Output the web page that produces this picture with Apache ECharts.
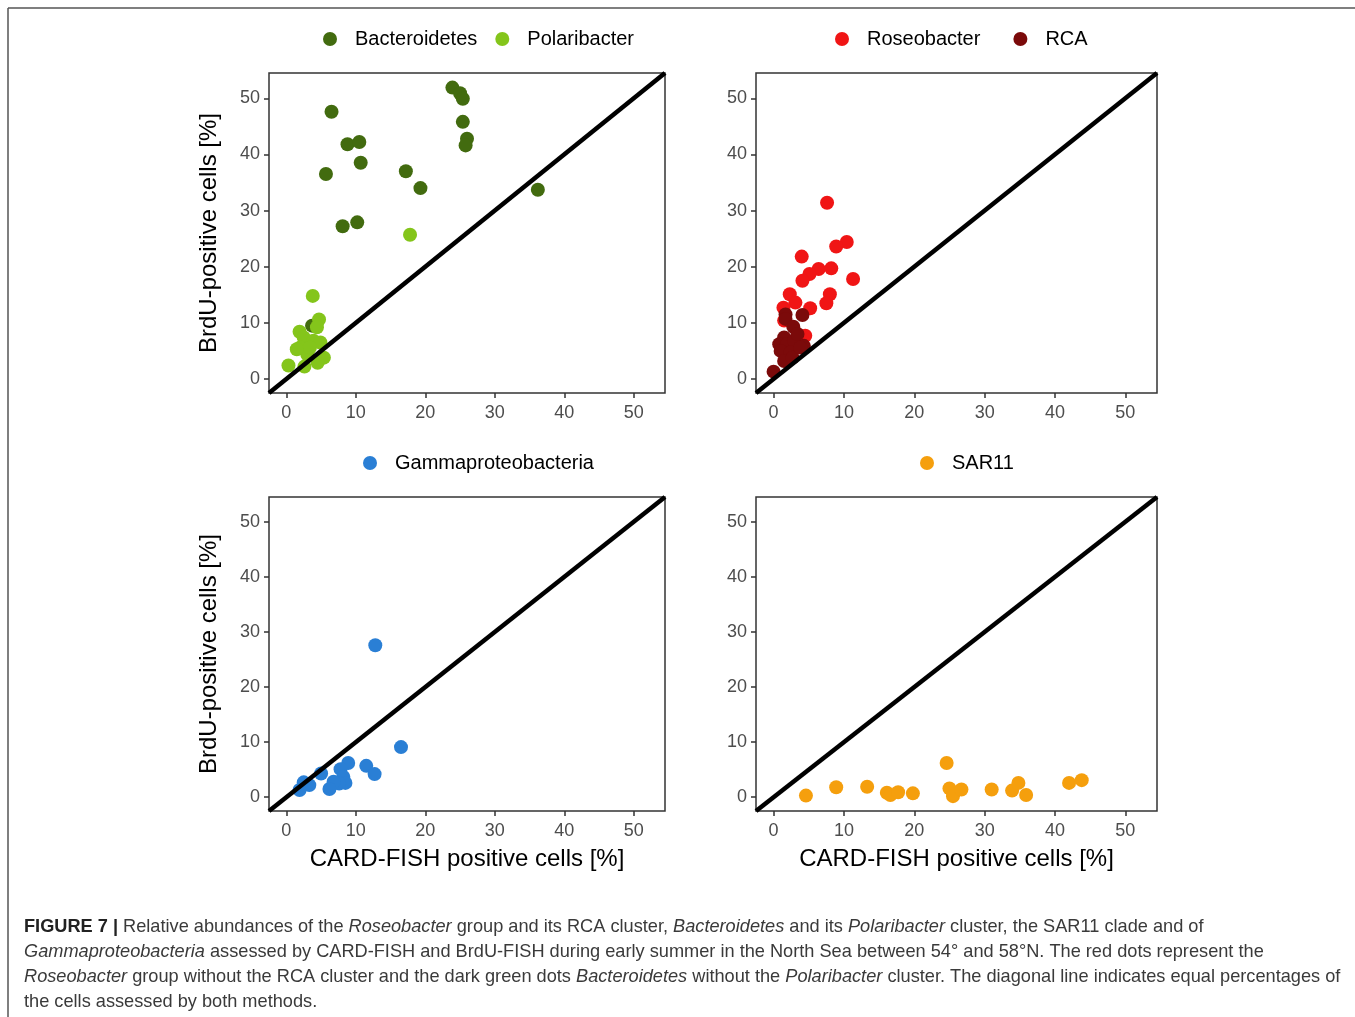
<!DOCTYPE html>
<html>
<head>
<meta charset="utf-8">
<script src="https://cdn.jsdelivr.net/npm/echarts@6.0.0/dist/echarts.min.js"></script>
<style>
  html, body { margin: 0; padding: 0; background: #fff; }
  #main { width: 1355px; height: 1017px; }
</style>
</head>
<body>
<div id="main"></div>
<script>
// values (CARD-FISH %, BrdU %)
var bactX = [23.9, 25.0, 25.4, 25.4, 26.0, 25.8, 6.5, 8.8, 10.5, 10.7, 5.7, 17.2, 19.3, 36.2, 8.1, 10.2, 3.7];
var bactY = [51.9, 50.9, 49.9, 45.8, 42.8, 41.6, 47.6, 41.8, 42.2, 38.5, 36.5, 37.0, 34.0, 33.7, 27.2, 27.9, 9.5];
var polaX = [17.8, 3.8, 4.7, 4.4, 1.9, 0.3, 2.5, 2.0, 3.9, 4.9, 3.0, 5.4, 4.5, 2.6, 1.5, 3.4];
var polaY = [25.7, 14.8, 10.6, 9.2, 8.4, 2.4, 7.4, 5.6, 6.8, 6.5, 4.4, 3.8, 2.9, 2.2, 5.3, 5.6];
var roseX = [7.6, 10.4, 8.9, 4.0, 6.4, 8.2, 5.1, 4.1, 11.3, 8.0, 7.5, 2.3, 3.1, 5.2, 1.4, 4.5, 1.5];
var roseY = [31.4, 24.4, 23.6, 21.8, 19.6, 19.7, 18.7, 17.5, 17.8, 15.1, 13.5, 15.1, 13.6, 12.6, 12.7, 7.7, 10.4];
var rcaX = [4.1, 1.7, 1.7, 2.8, 1.5, 0.8, 1.9, 2.9, 4.3, 1.0, 2.4, 1.5, 2.7, 0.0, 3.8, 3.4];
var rcaY = [11.4, 11.5, 10.7, 9.3, 7.4, 6.2, 6.2, 6.8, 5.9, 5.0, 4.7, 3.2, 3.8, 1.3, 5.6, 8.0];
var gamX = [12.8, 16.5, 11.5, 12.7, 8.9, 7.8, 8.2, 8.5, 7.6, 6.8, 6.2, 5.0, 2.5, 3.3, 1.9];
var gamY = [27.6, 9.1, 5.7, 4.2, 6.2, 5.1, 3.7, 2.6, 2.5, 2.8, 1.5, 4.3, 2.7, 2.2, 1.3];
var sarX = [4.6, 8.9, 13.3, 16.1, 16.6, 17.7, 19.8, 24.6, 25.0, 25.5, 26.7, 31.0, 33.9, 34.8, 35.9, 42.0, 43.8];
var sarY = [0.3, 1.8, 1.9, 0.8, 0.4, 0.9, 0.7, 6.2, 1.6, 0.2, 1.4, 1.4, 1.2, 2.6, 0.4, 2.6, 3.1];

var tickValues = [0, 10, 20, 30, 40, 50];
var axisRange = [-2.5, 54.5];

var FONT = "'Liberation Sans', Arial, sans-serif";

function zip(xs, ys) {
  return xs.map(function (x, i) { return [x, ys[i]]; });
}

var grids = [
  { left: 269, top: 73, width: 396, height: 320 },
  { left: 756, top: 73, width: 401, height: 320 },
  { left: 269, top: 497, width: 396, height: 314 },
  { left: 756, top: 497, width: 401, height: 314 }
];

function makeAxis(idx, type) {
  var ax = {
    type: 'value',
    gridIndex: idx,
    min: axisRange[0],
    max: axisRange[1],
    splitLine: { show: false },
    axisLine: { show: false, onZero: false },
    axisTick: { show: true, length: 5, customValues: tickValues, lineStyle: { color: '#333', width: 1.5 } },
    axisLabel: { customValues: tickValues, color: '#4d4d4d', fontSize: 18, fontFamily: FONT, margin: type === 'x' ? 11 : 9 }
  };
  if (type === 'y' && (idx === 0 || idx === 2)) {
    ax.name = 'BrdU-positive cells [%]';
    ax.nameLocation = 'middle';
    ax.nameGap = 48;
    ax.nameTextStyle = { color: '#000', fontSize: 24, fontFamily: FONT };
  }
  if (type === 'x' && (idx === 2 || idx === 3)) {
    ax.name = 'CARD-FISH positive cells [%]';
    ax.nameLocation = 'middle';
    ax.nameGap = 36;
    ax.nameTextStyle = { color: '#000', fontSize: 24, fontFamily: FONT };
  }
  return ax;
}

function scatter(name, idx, xs, ys, color) {
  return {
    name: name,
    type: 'scatter',
    xAxisIndex: idx,
    yAxisIndex: idx,
    data: zip(xs, ys),
    symbolSize: 14,
    itemStyle: { color: color, opacity: 1 },
    z: 2
  };
}

function diagonal(idx) {
  return {
    type: 'line',
    xAxisIndex: idx,
    yAxisIndex: idx,
    data: [[axisRange[0], axisRange[0]], [axisRange[1], axisRange[1]]],
    symbol: 'none',
    lineStyle: { color: '#000', width: 4.5 },
    silent: true,
    z: 3
  };
}

function legend(names, left, top, gap) {
  return {
    data: names,
    left: left,
    top: top,
    icon: 'circle',
    itemWidth: 40,
    itemHeight: 14,
    itemGap: gap,
    selectedMode: false,
    textStyle: { color: '#000', fontSize: 20, fontFamily: FONT, lineHeight: 20 }
  };
}

var captionStyle = { fontSize: 18.2, fontFamily: FONT, fill: '#3a3a3a' };
var rich = {
  b: { fontSize: 18.2, fontFamily: FONT, fontWeight: 'bold', fill: '#222' },
  i: { fontSize: 18.2, fontFamily: FONT, fontStyle: 'italic', fill: '#3a3a3a' }
};
var captionLines = [
  '{b|FIGURE 7 |} Relative abundances of the {i|Roseobacter} group and its RCA cluster, {i|Bacteroidetes} and its {i|Polaribacter} cluster, the SAR11 clade and of',
  '{i|Gammaproteobacteria} assessed by CARD-FISH and BrdU-FISH during early summer in the North Sea between 54\u00b0 and 58\u00b0N. The red dots represent the',
  '{i|Roseobacter} group without the RCA cluster and the dark green dots {i|Bacteroidetes} without the {i|Polaribacter} cluster. The diagonal line indicates equal percentages of',
  'the cells assessed by both methods.'
];

var graphics = [
  { type: 'line', shape: { x1: 8, y1: 8, x2: 1355, y2: 8 }, style: { stroke: '#555', lineWidth: 1.5 } },
  { type: 'line', shape: { x1: 8, y1: 8, x2: 8, y2: 1017 }, style: { stroke: '#555', lineWidth: 1.5 } }
];
captionLines.forEach(function (t, i) {
  graphics.push({
    type: 'text',
    left: 24,
    top: 918 + i * 25,
    style: Object.assign({ text: t, rich: rich }, captionStyle)
  });
});

var myChart = echarts.init(document.getElementById('main'));
myChart.setOption({
  animation: false,
  backgroundColor: '#fff',
  grid: grids.map(function (g) {
    return Object.assign({ show: true, borderColor: '#333', borderWidth: 1.5, backgroundColor: '#fff' }, g);
  }),
  xAxis: [0, 1, 2, 3].map(function (i) { return makeAxis(i, 'x'); }),
  yAxis: [0, 1, 2, 3].map(function (i) { return makeAxis(i, 'y'); }),
  legend: [
    legend(['Bacteroidetes', 'Polaribacter'], 318, 24, 18),
    legend(['Roseobacter', 'RCA'], 830, 24, 33),
    legend(['Gammaproteobacteria'], 358, 448, 5),
    legend(['SAR11'], 915, 448, 5)
  ],
  series: [
    scatter('Bacteroidetes', 0, bactX, bactY, '#426b0f'),
    scatter('Polaribacter', 0, polaX, polaY, '#84c51b'),
    diagonal(0),
    scatter('Roseobacter', 1, roseX, roseY, '#f01515'),
    scatter('RCA', 1, rcaX, rcaY, '#7b0a0a'),
    diagonal(1),
    scatter('Gammaproteobacteria', 2, gamX, gamY, '#2a7fd5'),
    diagonal(2),
    scatter('SAR11', 3, sarX, sarY, '#f59f0d'),
    diagonal(3)
  ],
  graphic: graphics
});
window.onresize = function () {
  myChart.resize();
};
</script>
</body>
</html>
